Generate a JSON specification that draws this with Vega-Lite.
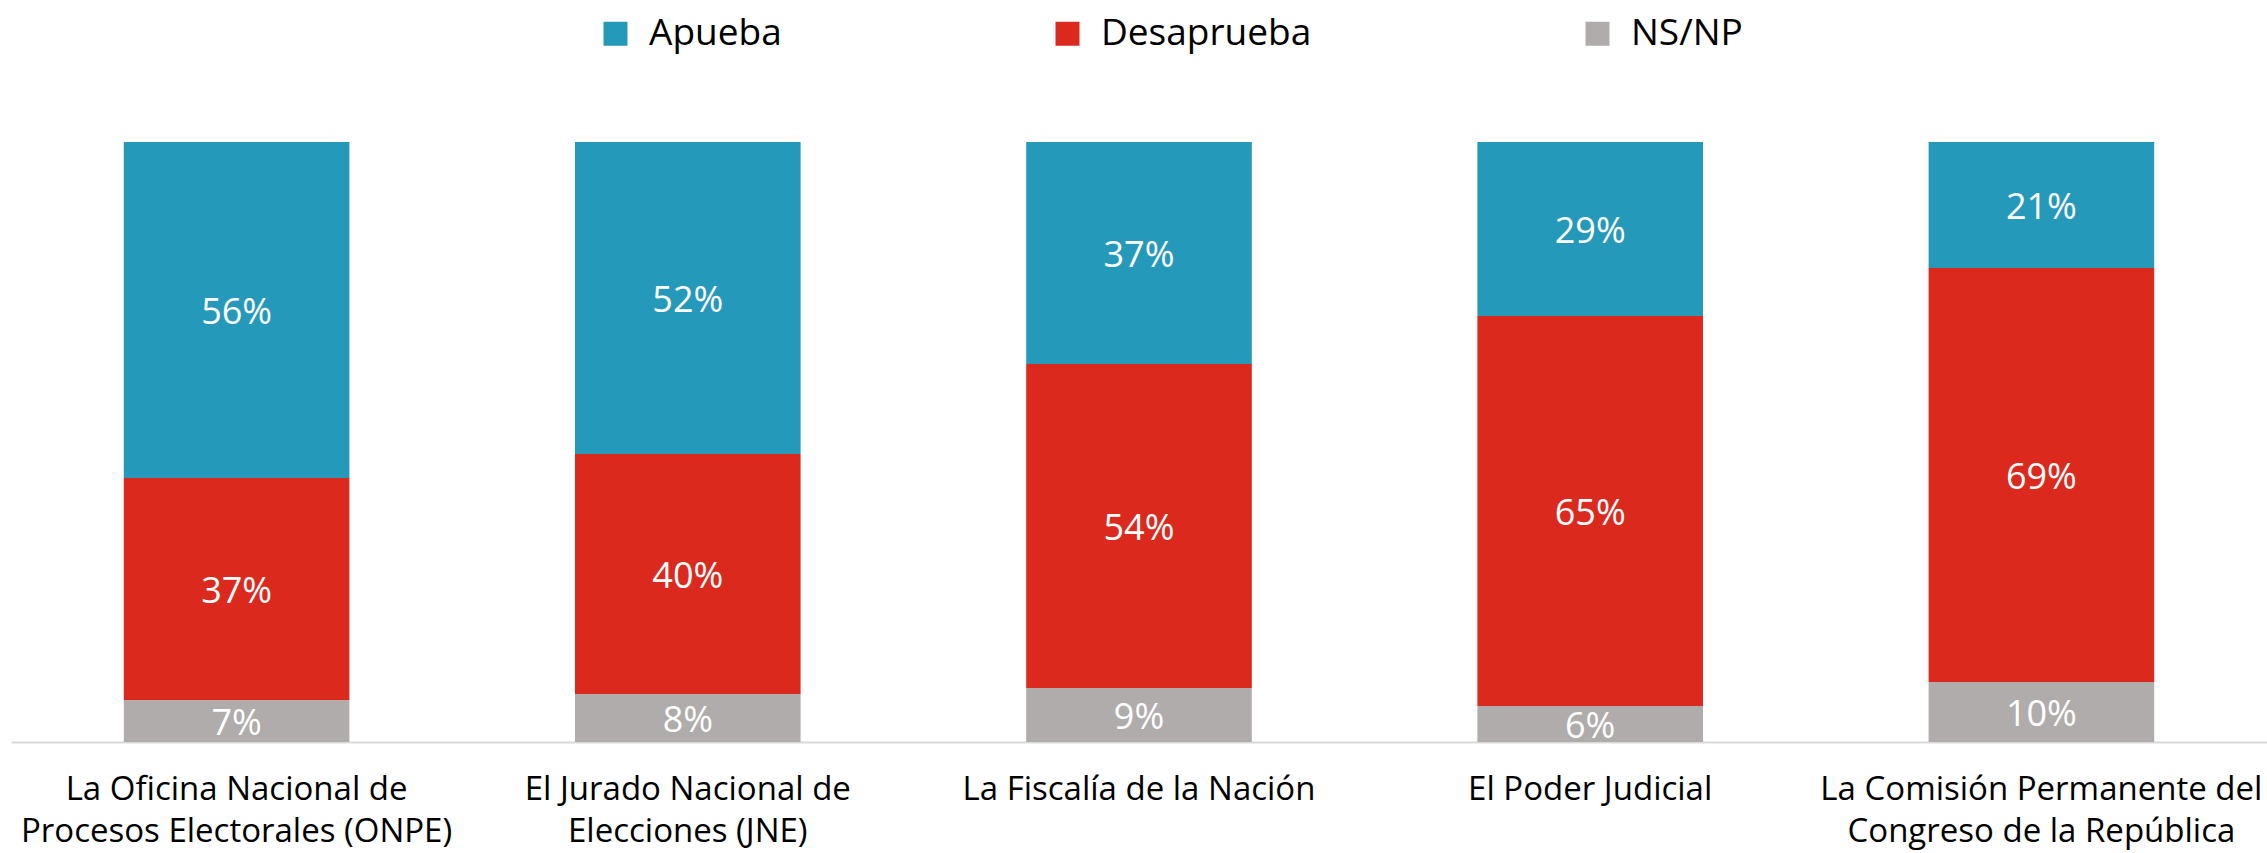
{
  "$schema": "https://vega.github.io/schema/vega-lite/v6.json",
  "autosize": "none",
  "width": 2256,
  "height": 600,
  "padding": {"left": 11, "top": 142, "right": 0, "bottom": 111},
  "background": "white",
  "config": {
    "view": {"stroke": null},
    "font": "Open Sans"
  },
  "data": {
    "values": [
      {"inst": "La Oficina Nacional de|Procesos Electorales (ONPE)", "serie": "Apueba", "pct": 0.56},
      {"inst": "La Oficina Nacional de|Procesos Electorales (ONPE)", "serie": "Desaprueba", "pct": 0.37},
      {"inst": "La Oficina Nacional de|Procesos Electorales (ONPE)", "serie": "NS/NP", "pct": 0.07},
      {"inst": "El Jurado Nacional de|Elecciones (JNE)", "serie": "Apueba", "pct": 0.52},
      {"inst": "El Jurado Nacional de|Elecciones (JNE)", "serie": "Desaprueba", "pct": 0.40},
      {"inst": "El Jurado Nacional de|Elecciones (JNE)", "serie": "NS/NP", "pct": 0.08},
      {"inst": "La Fiscalía de la Nación", "serie": "Apueba", "pct": 0.37},
      {"inst": "La Fiscalía de la Nación", "serie": "Desaprueba", "pct": 0.54},
      {"inst": "La Fiscalía de la Nación", "serie": "NS/NP", "pct": 0.09},
      {"inst": "El Poder Judicial", "serie": "Apueba", "pct": 0.29},
      {"inst": "El Poder Judicial", "serie": "Desaprueba", "pct": 0.65},
      {"inst": "El Poder Judicial", "serie": "NS/NP", "pct": 0.06},
      {"inst": "La Comisión Permanente del|Congreso de la República", "serie": "Apueba", "pct": 0.21},
      {"inst": "La Comisión Permanente del|Congreso de la República", "serie": "Desaprueba", "pct": 0.69},
      {"inst": "La Comisión Permanente del|Congreso de la República", "serie": "NS/NP", "pct": 0.10}
    ]
  },
  "transform": [
    {"stack": "pct", "groupby": ["inst"], "sort": [{"field": "serie", "order": "descending"}], "as": ["v0", "v1"]},
    {"calculate": "(datum.v0 + datum.v1) / 2", "as": "mid"}
  ],
  "encoding": {
    "x": {
      "field": "inst",
      "type": "nominal",
      "sort": null,
      "scale": {"paddingInner": 0.5, "paddingOuter": 0.25},
      "axis": {
        "title": null,
        "labelAngle": 0,
        "labelExpr": "split(datum.label, '|')",
        "labelFontSize": 33,
        "labelColor": "#000000",
        "labelPadding": 31,
        "labelLineHeight": 42,
        "labelLimit": 600,
        "ticks": false,
        "domainColor": "#d9d9d9",
        "domainWidth": 2
      }
    }
  },
  "layer": [
    {
      "mark": {"type": "bar", "stroke": null},
      "encoding": {
        "y": {"field": "v0", "type": "quantitative", "scale": {"domain": [0, 1], "nice": false}, "axis": null},
        "y2": {"field": "v1"},
        "color": {
          "field": "serie",
          "type": "nominal",
          "scale": {"domain": ["Apueba", "Desaprueba", "NS/NP"], "range": ["#2599BA", "#DB291E", "#AFACAB"]},
          "legend": {
            "title": null,
            "orient": "none",
            "direction": "horizontal",
            "legendX": 586,
            "legendY": -127,
            "symbolType": "square",
            "symbolSize": 576,
            "symbolStrokeWidth": 0,
            "labelFontSize": 37,
            "labelFont": "Open Sans",
            "labelColor": "#000000",
            "labelOffset": 15,
            "columnPadding": 267,
            "padding": 0,
            "labelLimit": 500
          }
        }
      }
    },
    {
      "mark": {"type": "text", "color": "white", "fontSize": 36, "baseline": "middle", "align": "center", "dy": 3},
      "encoding": {
        "y": {"field": "mid", "type": "quantitative"},
        "text": {"field": "pct", "type": "quantitative", "format": ".0%"},
        "detail": {"field": "serie"}
      }
    }
  ]
}
